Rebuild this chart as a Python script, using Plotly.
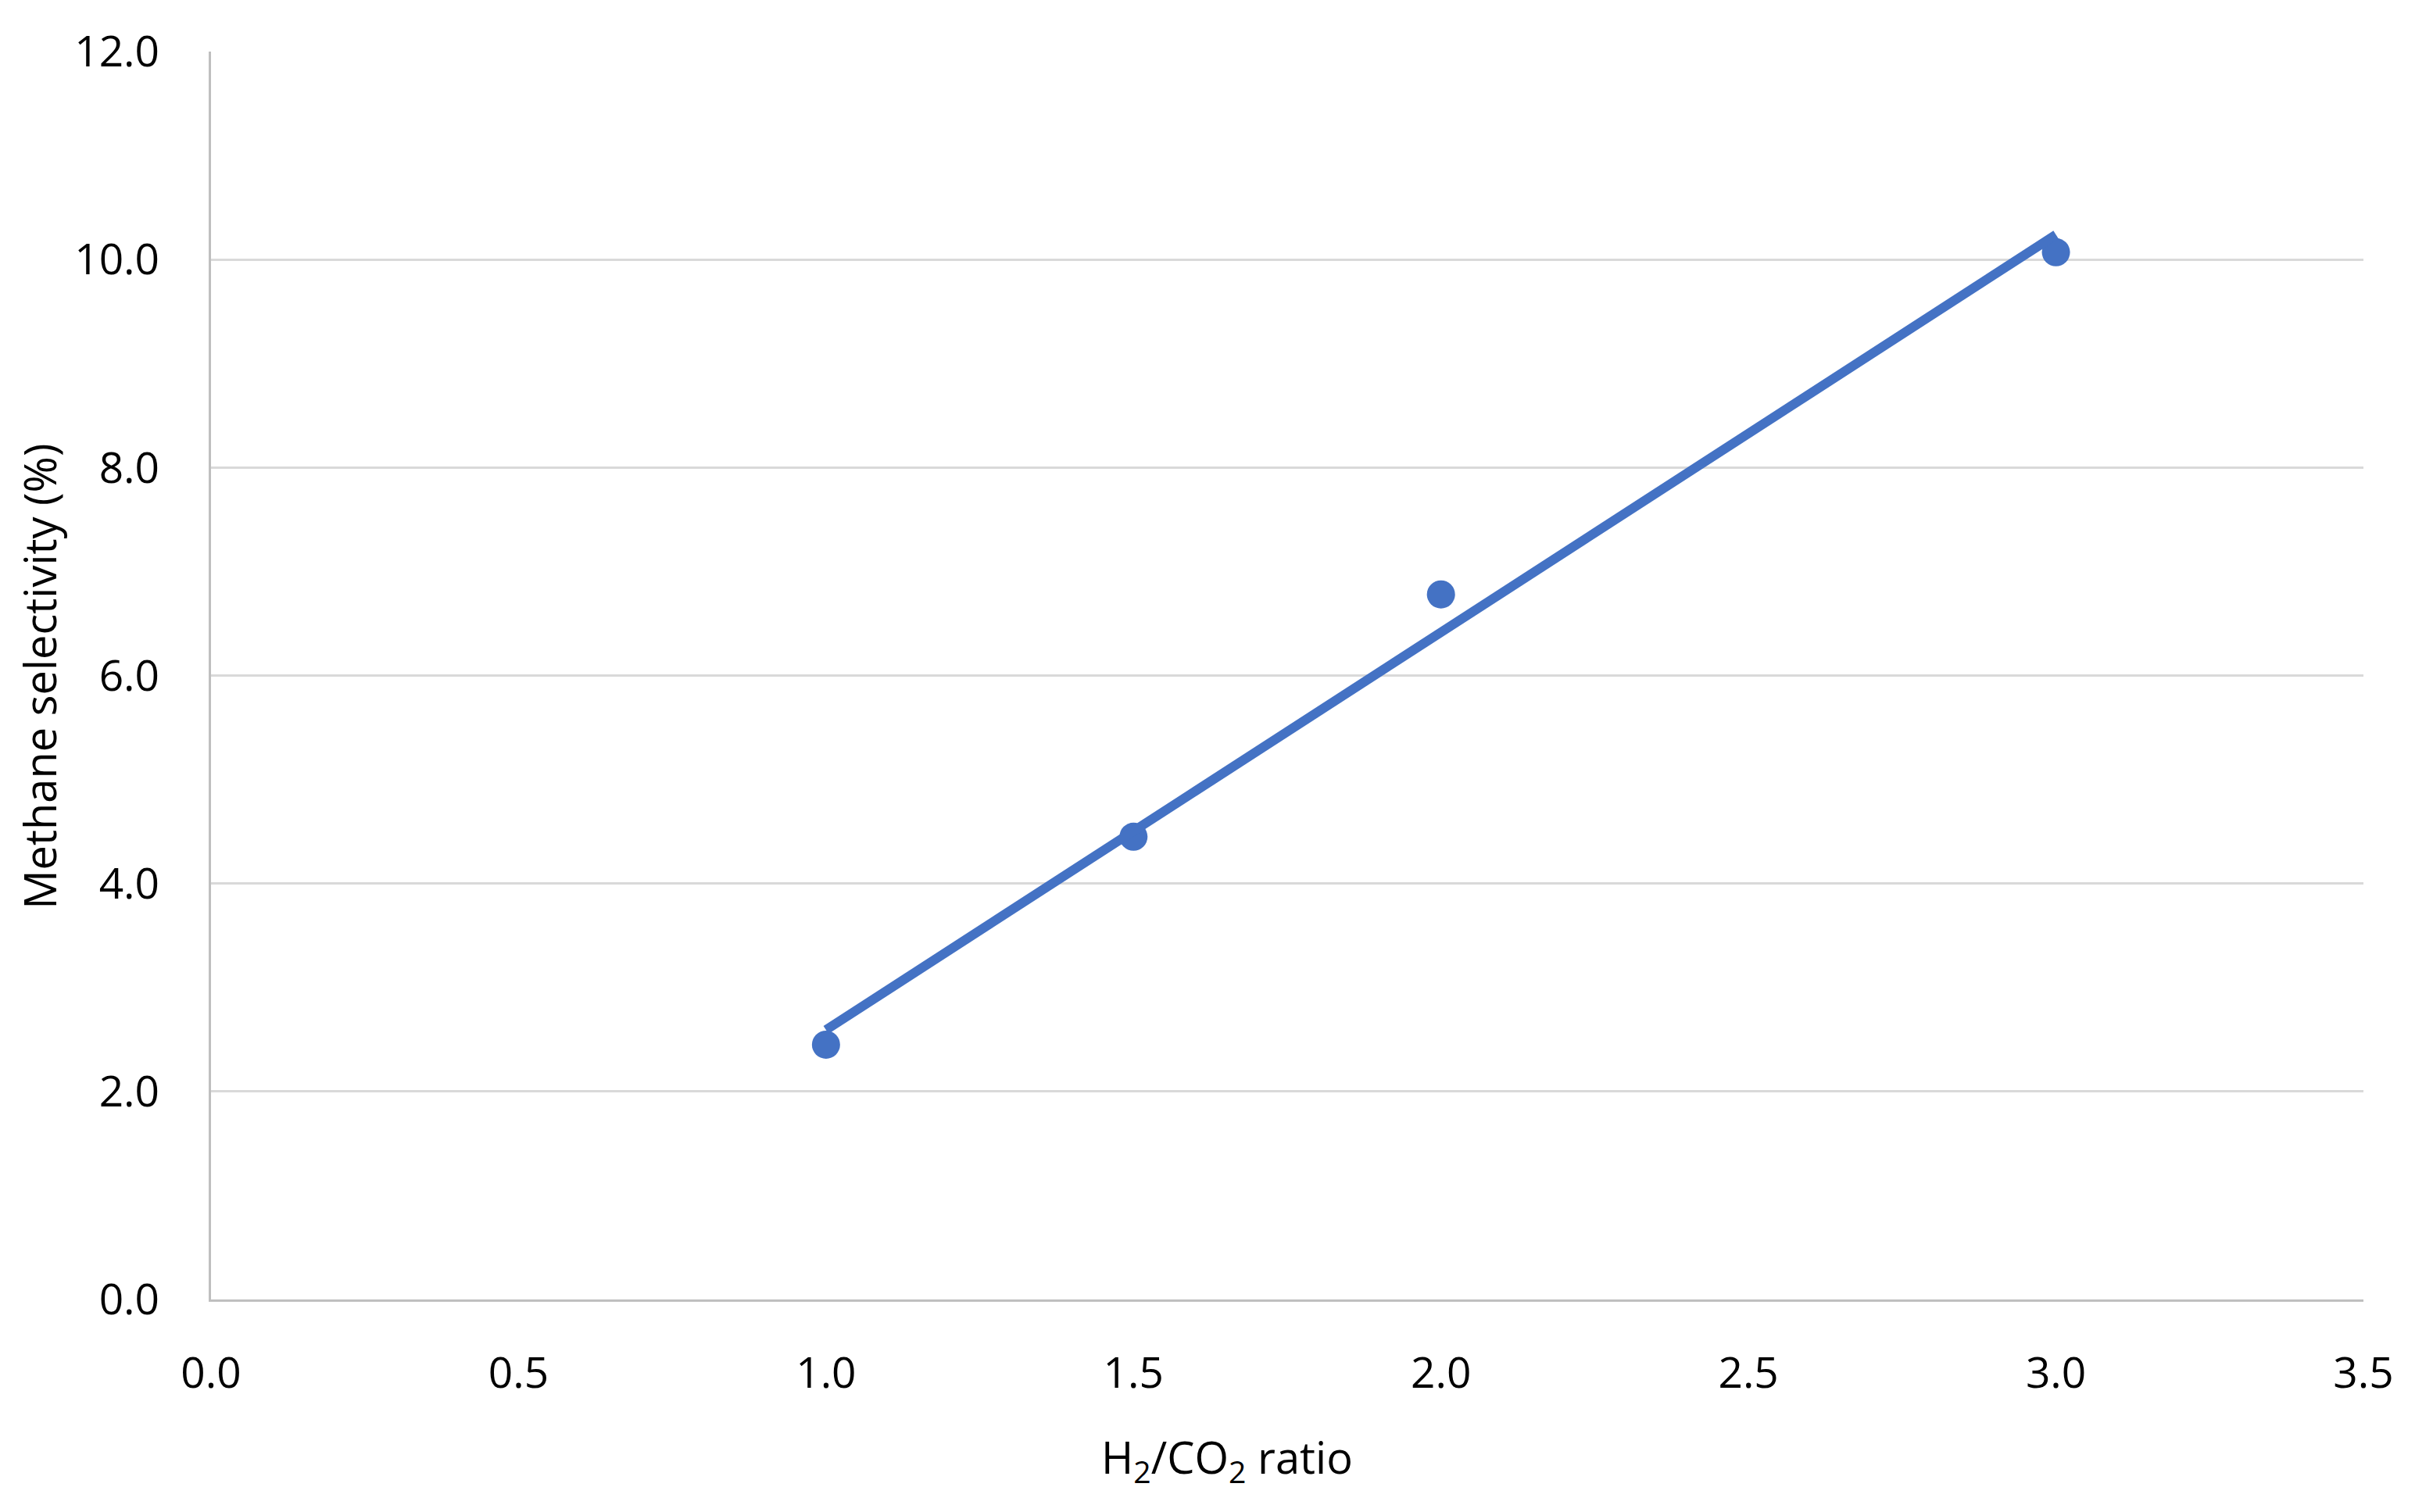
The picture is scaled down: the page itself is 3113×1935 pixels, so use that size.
import numpy as np
import plotly.graph_objects as go

ratio = [1.0, 1.5, 2.0, 3.0]
selectivity = [2.45, 4.45, 6.78, 10.07]

x_ticks = [0.0, 0.5, 1.0, 1.5, 2.0, 2.5, 3.0, 3.5]
y_ticks = [0.0, 2.0, 4.0, 6.0, 8.0, 10.0, 12.0]

x_title = "H<sub>2</sub>/CO<sub>2</sub> ratio"
y_title = "Methane selectivity (%)"

# Linear trendline (least-squares fit of the data)
slope, intercept = np.polyfit(ratio, selectivity, 1)
trend_x = [min(ratio), max(ratio)]
trend_y = [slope * v + intercept for v in trend_x]

blue = "#4472C4"
font_family = "Open Sans, Noto Sans, sans-serif"

fig = go.Figure()
fig.add_trace(go.Scatter(x=ratio, y=selectivity, mode="markers",
                         marker=dict(color=blue, size=36, line=dict(width=0)),
                         showlegend=False))
fig.add_trace(go.Scatter(x=trend_x, y=trend_y, mode="lines",
                         line=dict(color=blue, width=12),
                         showlegend=False))

# page body has an 8px default margin; compensate so the chart fills the window
fig.update_layout(
    width=3105, height=1927,
    paper_bgcolor="white", plot_bgcolor="white",
    margin=dict(l=262, r=89, t=58, b=272),
    font=dict(family=font_family, size=55, color="black"),
)
fig.update_xaxes(
    range=[0, 3.5], tickvals=x_ticks, ticktext=[f"{v:.1f}" for v in x_ticks],
    showgrid=False, zeroline=False, automargin=False,
    showline=True, linecolor="#bfbfbf", linewidth=3,
    ticks="outside", ticklen=44, tickcolor="rgba(0,0,0,0)",
)
fig.update_yaxes(
    range=[0, 12], tickvals=y_ticks, ticktext=[f"{v:.1f}" for v in y_ticks],
    showgrid=True, gridcolor="#d9d9d9", gridwidth=3, zeroline=False, automargin=False,
    showline=True, linecolor="#bfbfbf", linewidth=3,
    ticks="outside", ticklen=52, tickcolor="rgba(0,0,0,0)",
)
fig.add_annotation(text=x_title, xref="paper", yref="paper", x=0.472, y=-0.128,
                   xanchor="center", yanchor="middle", showarrow=False,
                   font=dict(size=56))
fig.add_annotation(text=y_title, xref="paper", yref="paper", x=-0.08, y=0.499,
                   xanchor="center", yanchor="middle", showarrow=False,
                   textangle=-90, font=dict(size=56))

fig.write_html("out.html")
